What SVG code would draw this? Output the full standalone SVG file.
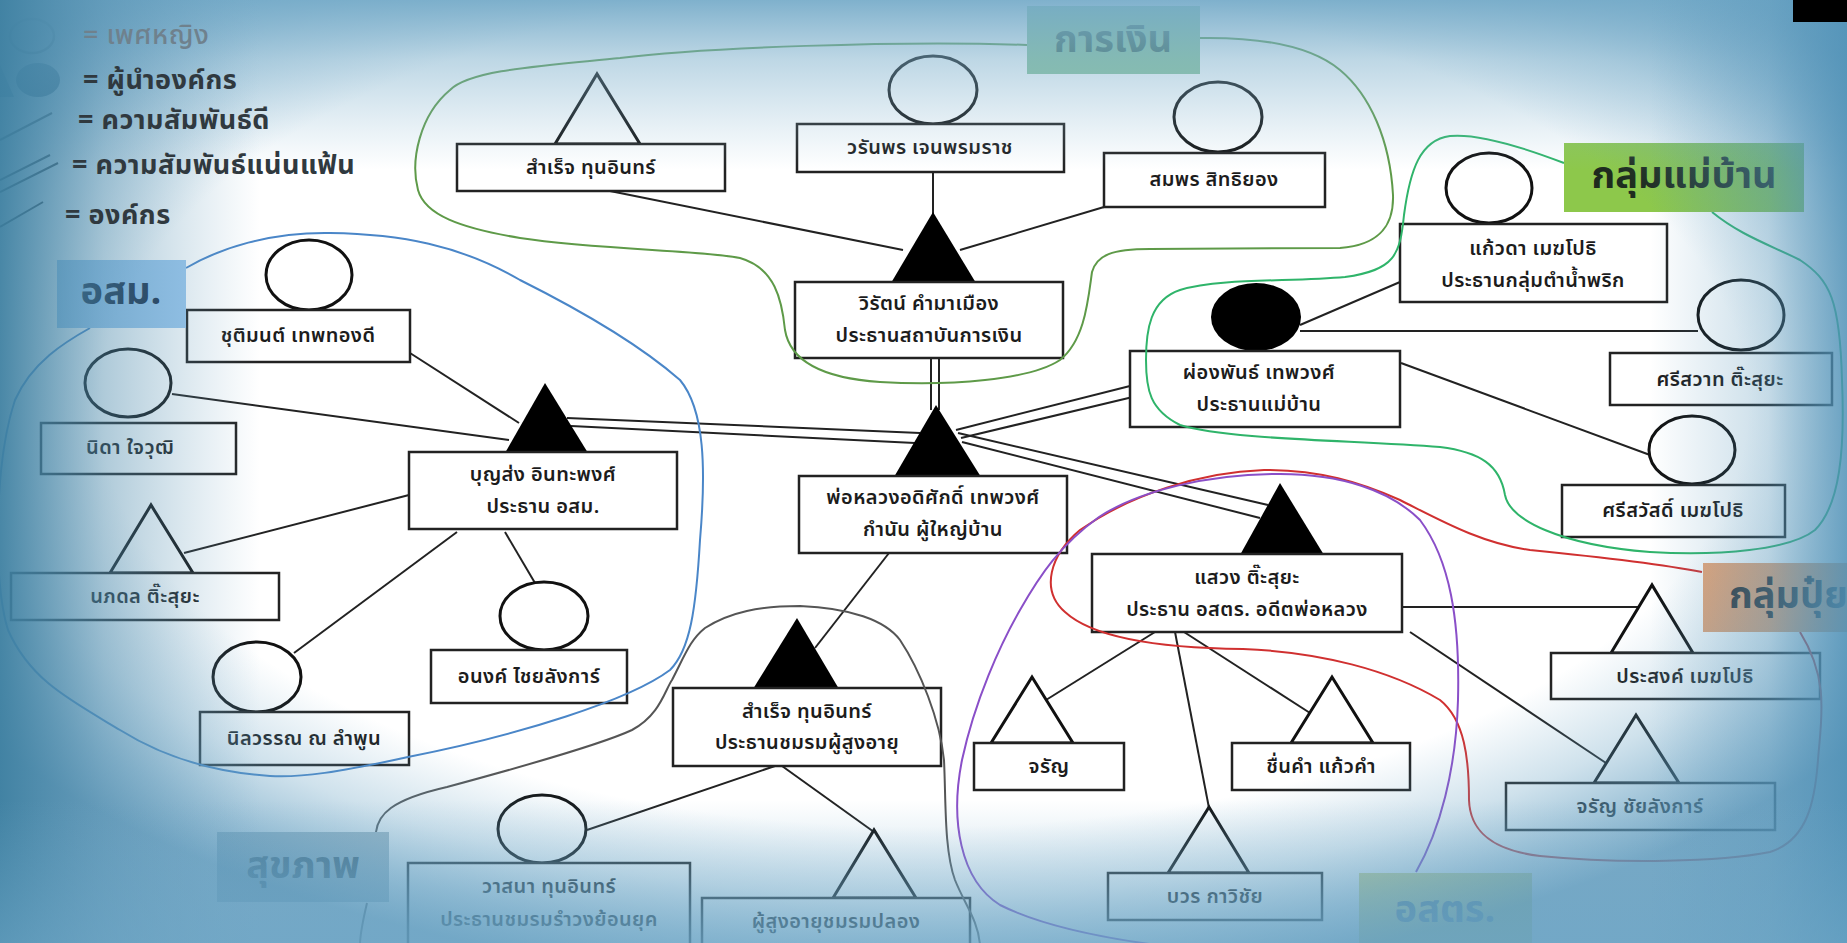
<svg xmlns="http://www.w3.org/2000/svg" width="1847" height="943" viewBox="0 0 1847 943">
<defs>
<style>
.box{fill:#fff;stroke:#222;stroke-width:2.5}
.t{font-family:"Noto Sans Thai","Noto Sans","DejaVu Sans",sans-serif;font-size:20px;letter-spacing:0.4px;fill:#1c1c1c;text-anchor:middle;dominant-baseline:central;font-weight:600}
.lg{font-family:"Noto Sans Thai","Noto Sans","DejaVu Sans",sans-serif;font-size:27px;letter-spacing:0.5px;fill:#30393f;dominant-baseline:central;font-weight:700}
.lab{font-family:"Noto Sans Thai","Noto Sans","DejaVu Sans",sans-serif;font-size:38px;font-weight:700;text-anchor:middle;dominant-baseline:central}
.tri{fill:#fff;stroke:#111;stroke-width:3;stroke-linejoin:miter}
.trif{fill:#000}
.cir{fill:#fff;stroke:#111;stroke-width:3}
.ln{stroke:#222;stroke-width:2;fill:none}
.ct{fill:none;stroke-width:2}
</style>
<radialGradient id="vig" cx="0.5" cy="0.43" r="0.62">
<stop offset="0" stop-color="#5f9dc0" stop-opacity="0"/>
<stop offset="0.72" stop-color="#5f9dc0" stop-opacity="0"/>
<stop offset="0.84" stop-color="#5f9dc0" stop-opacity="0.3"/>
<stop offset="0.93" stop-color="#5a98bc" stop-opacity="0.6"/>
<stop offset="1" stop-color="#5592b6" stop-opacity="0.8"/>
</radialGradient>
<linearGradient id="vt" x1="0" y1="0" x2="0" y2="1">
<stop offset="0" stop-color="#74aac8" stop-opacity="0.92"/>
<stop offset="0.35" stop-color="#7cafcb" stop-opacity="0.5"/>
<stop offset="1" stop-color="#8ab8d2" stop-opacity="0"/>
</linearGradient>
<linearGradient id="vl" x1="0" y1="0" x2="1" y2="0">
<stop offset="0" stop-color="#3d7fa0" stop-opacity="0.92"/>
<stop offset="0.4" stop-color="#4d8aab" stop-opacity="0.45"/>
<stop offset="1" stop-color="#6aa0bf" stop-opacity="0"/>
</linearGradient>
<linearGradient id="vr" x1="0" y1="0" x2="1" y2="0">
<stop offset="0" stop-color="#4e90b6" stop-opacity="0"/>
<stop offset="0.6" stop-color="#4e90b6" stop-opacity="0.3"/>
<stop offset="1" stop-color="#4e90b6" stop-opacity="0.8"/>
</linearGradient>
<linearGradient id="vb" x1="0" y1="0" x2="0" y2="1">
<stop offset="0" stop-color="#6fa8c8" stop-opacity="0"/>
<stop offset="1" stop-color="#6fa8c8" stop-opacity="0.55"/>
</linearGradient>
</defs>
<rect x="0" y="0" width="1847" height="943" fill="#fff"/>

<g id="legend-shapes">
<polygon points="-20,97 -2,60 14,97" fill="#3a6f8c"/>
<ellipse cx="32" cy="36" rx="22" ry="17" fill="none" stroke="#555" stroke-width="2.5"/>
<ellipse cx="38" cy="80" rx="22" ry="17" fill="#22465c"/>
<line x1="0" y1="140" x2="52" y2="113" class="ln"/>
<line x1="0" y1="180" x2="50" y2="155" class="ln"/>
<line x1="0" y1="192" x2="58" y2="163" class="ln"/>
<line x1="0" y1="227" x2="43" y2="202" class="ln"/>
</g>

<g id="connectors">
<line class="ln" x1="610" y1="191" x2="903" y2="250"/>
<line class="ln" x1="933" y1="172" x2="933" y2="214"/>
<line class="ln" x1="1104" y1="207" x2="960" y2="250"/>
<line class="ln" x1="931" y1="358" x2="931" y2="410"/>
<line class="ln" x1="939" y1="358" x2="939" y2="410"/>
<line class="ln" x1="956" y1="430" x2="1130" y2="386"/>
<line class="ln" x1="961" y1="438" x2="1137" y2="396"/>
<line class="ln" x1="958" y1="433" x2="1268" y2="505"/>
<line class="ln" x1="962" y1="442" x2="1260" y2="518"/>
<line class="ln" x1="567" y1="418" x2="920" y2="433"/>
<line class="ln" x1="571" y1="426" x2="915" y2="443"/>
<line class="ln" x1="1300" y1="325" x2="1400" y2="282"/>
<line class="ln" x1="1300" y1="331" x2="1698" y2="331"/>
<line class="ln" x1="1401" y1="363" x2="1650" y2="455"/>
<line class="ln" x1="410" y1="353" x2="519" y2="423"/>
<line class="ln" x1="172" y1="394" x2="509" y2="440"/>
<line class="ln" x1="409" y1="495" x2="184" y2="553"/>
<line class="ln" x1="457" y1="532" x2="294" y2="653"/>
<line class="ln" x1="505" y1="532" x2="535" y2="583"/>
<line class="ln" x1="889" y1="553" x2="815" y2="648"/>
<line class="ln" x1="775" y1="766" x2="587" y2="830"/>
<line class="ln" x1="782" y1="766" x2="874" y2="832"/>
<line class="ln" x1="1400" y1="607" x2="1640" y2="607"/>
<line class="ln" x1="1410" y1="632" x2="1606" y2="763"/>
<line class="ln" x1="1155" y1="632" x2="1046" y2="700"/>
<line class="ln" x1="1175" y1="632" x2="1209" y2="808"/>
<line class="ln" x1="1184" y1="632" x2="1310" y2="713"/>
</g>

<g id="n-samret1"><polygon class="tri" points="555,144 597,74 640,144"/><rect class="box" x="457" y="144" width="268" height="47"/><text class="t" x="591" y="168">สำเร็จ ทุนอินทร์</text></g>
<g id="n-waranporn"><ellipse class="cir" cx="933" cy="90" rx="44" ry="34"/><rect class="box" x="797" y="124" width="267" height="48"/><text class="t" x="930" y="148">วรันพร เจนพรมราช</text></g>
<g id="n-wirat"><polygon class="trif" points="891,283 933,212 976,283"/><rect class="box" x="795" y="282" width="268" height="76"/><text class="t" x="929" y="304">วิรัตน์ คำมาเมือง</text><text class="t" x="929" y="336">ประธานสถาบันการเงิน</text></g>
<g id="n-somporn"><ellipse class="cir" cx="1218" cy="117" rx="44" ry="35"/><rect class="box" x="1104" y="153" width="221" height="54"/><text class="t" x="1214" y="180">สมพร สิทธิยอง</text></g>
<g id="n-porluang"><polygon class="trif" points="894,477 936,405 981,477"/><rect class="box" x="799" y="476" width="268" height="77"/><text class="t" x="933" y="498">พ่อหลวงอดิศักดิ์ เทพวงศ์</text><text class="t" x="933" y="530">กำนัน ผู้ใหญ่บ้าน</text></g>
<g id="n-pongpan"><ellipse cx="1256" cy="317" rx="45" ry="34" fill="#000"/><rect class="box" x="1130" y="351" width="270" height="76"/><text class="t" x="1259" y="373">ผ่องพันธ์ เทพวงศ์</text><text class="t" x="1259" y="405">ประธานแม่บ้าน</text></g>
<g id="n-kaewda"><ellipse class="cir" cx="1489" cy="188" rx="43" ry="35"/><rect class="box" x="1400" y="224" width="267" height="78"/><text class="t" x="1533" y="249">แก้วดา เมฆโปธิ</text><text class="t" x="1533" y="281">ประธานกลุ่มตำน้ำพริก</text></g>
<g id="n-sriswat"><ellipse class="cir" cx="1741" cy="315" rx="43" ry="35"/><rect class="box" x="1610" y="353" width="222" height="52"/><text class="t" x="1720" y="380">ศรีสวาท ติ๊ะสุยะ</text></g>
<g id="n-sriswas"><ellipse class="cir" cx="1692" cy="450" rx="43" ry="34"/><rect class="box" x="1562" y="485" width="223" height="52"/><text class="t" x="1673" y="511">ศรีสวัสดิ์ เมฆโปธิ</text></g>
<g id="n-boonsong"><polygon class="trif" points="505,453 545,383 588,453"/><rect class="box" x="409" y="452" width="268" height="77"/><text class="t" x="543" y="475">บุญส่ง อินทะพงศ์</text><text class="t" x="543" y="507">ประธาน อสม.</text></g>
<g id="n-chutimon"><ellipse class="cir" cx="309" cy="275" rx="43" ry="35"/><rect class="box" x="187" y="310" width="223" height="52"/><text class="t" x="298" y="336">ชุติมนต์ เทพทองดี</text></g>
<g id="n-nida"><ellipse class="cir" cx="128" cy="383" rx="43" ry="34"/><rect class="box" x="41" y="423" width="195" height="51"/><text class="t" x="130" y="448">นิดา ใจวุฒิ</text></g>
<g id="n-napadon"><polygon class="tri" points="110,573 151,505 193,573"/><rect class="box" x="11" y="573" width="268" height="47"/><text class="t" x="145" y="597">นภดล ติ๊ะสุยะ</text></g>
<g id="n-ninlawan"><ellipse class="cir" cx="257" cy="677" rx="44" ry="35"/><rect class="box" x="200" y="712" width="209" height="53"/><text class="t" x="304" y="739">นิลวรรณ ณ ลำพูน</text></g>
<g id="n-anong"><ellipse class="cir" cx="544" cy="616" rx="44" ry="34"/><rect class="box" x="431" y="650" width="196" height="53"/><text class="t" x="529" y="677">อนงค์ ไชยลังการ์</text></g>
<g id="n-samret2"><polygon class="trif" points="753,689 797,618 839,689"/><rect class="box" x="673" y="688" width="268" height="78"/><text class="t" x="807" y="712">สำเร็จ ทุนอินทร์</text><text class="t" x="807" y="743">ประธานชมรมผู้สูงอายุ</text></g>
<g id="n-wasana"><ellipse class="cir" cx="542" cy="829" rx="44" ry="34"/><rect class="box" x="408" y="863" width="282" height="95"/><text class="t" x="549" y="887">วาสนา ทุนอินทร์</text><text class="t" x="549" y="920">ประธานชมรมรำวงย้อนยุค</text></g>
<g id="n-elder"><polygon class="tri" points="833,898 874,830 916,898"/><rect class="box" x="702" y="898" width="268" height="60"/><text class="t" x="836" y="922">ผู้สูงอายุชมรมปลอง</text></g>
<g id="n-sawaeng"><polygon class="trif" points="1240,555 1280,483 1324,555"/><rect class="box" x="1092" y="554" width="310" height="78"/><text class="t" x="1247" y="578">แสวง ติ๊ะสุยะ</text><text class="t" x="1247" y="610">ประธาน อสตร. อดีตพ่อหลวง</text></g>
<g id="n-charan"><polygon class="tri" points="991,743 1032,677 1073,743"/><rect class="box" x="974" y="743" width="150" height="47"/><text class="t" x="1049" y="767">จรัญ</text></g>
<g id="n-chuenkham"><polygon class="tri" points="1291,743 1332,677 1373,743"/><rect class="box" x="1232" y="743" width="178" height="47"/><text class="t" x="1321" y="767">ชื่นคำ แก้วคำ</text></g>
<g id="n-bowon"><polygon class="tri" points="1168,873 1209,807 1249,873"/><rect class="box" x="1108" y="873" width="214" height="47"/><text class="t" x="1215" y="897">บวร กาวิชัย</text></g>
<g id="n-prasong"><polygon class="tri" points="1611,653 1652,585 1693,653"/><rect class="box" x="1551" y="653" width="269" height="46"/><text class="t" x="1685" y="677">ประสงค์ เมฆโปธิ</text></g>
<g id="n-charan2"><polygon class="tri" points="1594,783 1636,715 1679,783"/><rect class="box" x="1506" y="783" width="269" height="47"/><text class="t" x="1640" y="807">จรัญ ชัยลังการ์</text></g>

<g id="groups">
<path class="ct" stroke="#5e9a48" d="M1027,45 C900,40 700,48 620,58 C540,66 470,70 450,90 C420,115 410,160 418,190 C425,215 460,228 520,238 C600,250 700,250 740,258 C775,268 782,300 785,330 C790,360 820,378 880,382 C950,386 1030,380 1060,360 C1085,340 1088,300 1092,272 C1097,255 1112,249 1150,249 L1340,248 C1380,245 1394,225 1393,195 C1390,140 1370,95 1340,70 C1310,45 1260,37 1200,38"/>
<path class="ct" stroke="#2fb46a" d="M1564,163 C1530,150 1480,133 1450,136 C1420,140 1410,170 1404,215 C1400,255 1395,270 1345,277 C1290,282 1220,278 1180,290 C1150,300 1146,330 1146,360 C1146,390 1150,410 1180,425 C1230,440 1350,440 1440,447 C1480,452 1500,465 1505,495 C1510,520 1560,545 1650,552 C1720,556 1790,550 1815,530 C1840,505 1845,450 1842,380 C1840,300 1830,280 1800,260 C1770,245 1740,235 1712,212"/>
<path class="ct" stroke="#4a86c8" d="M186,268 C220,248 270,232 330,233 C400,234 460,245 520,280 C580,310 640,345 680,380 C705,410 706,470 700,540 C696,610 690,650 670,670 C630,700 520,735 408,757 C340,772 300,778 270,776 C210,772 160,755 120,730 C70,700 30,680 8,630 C-8,580 -5,460 15,400 C32,362 65,342 90,328"/>
<path class="ct" stroke="#555" d="M376,832 C378,815 390,800 447,787 C510,770 600,745 632,730 C660,715 665,690 672,680 C685,655 690,640 705,628 C730,612 760,606 800,606 C850,608 885,620 900,640 C920,670 940,720 944,760 C946,800 944,850 955,880 C965,905 978,920 980,945"/>
<path class="ct" stroke="#555" d="M367,903 C363,920 360,935 360,945"/>
<path class="ct" stroke="#d03030" d="M1702,572 C1650,562 1580,555 1530,550 C1480,543 1440,520 1400,500 C1360,482 1320,470 1264,470 C1200,472 1130,495 1080,530 C1050,555 1040,590 1065,612 C1090,635 1150,648 1243,649 C1320,652 1390,670 1440,700 C1465,720 1469,760 1469,800 C1470,830 1490,850 1540,856 C1620,864 1720,862 1770,852 C1808,840 1815,800 1818,760 C1821,720 1830,680 1800,632"/>
<path class="ct" stroke="#8a4fc8" d="M1416,872 C1440,830 1456,770 1458,700 C1460,620 1450,560 1420,520 C1390,490 1340,474 1280,474 C1210,474 1140,490 1099,517 C1060,545 1040,575 1020,610 C1000,645 975,700 962,760 C950,820 960,880 1000,905 C1040,925 1100,940 1200,950"/>
</g>

<g id="labels">
<g id="l-finance"><rect x="1027" y="6" width="173" height="68" fill="#8cc49c"/><text class="lab" x="1113" y="40" fill="#3f6a5c">การเงิน</text></g>
<g id="l-housewife"><rect x="1564" y="143" width="240" height="69" fill="#8dc84b"/><text class="lab" x="1684" y="176" fill="#1e2b1e">กลุ่มแม่บ้าน</text></g>
<g id="l-osm"><rect x="57" y="260" width="129" height="68" fill="#9cc8ee"/><text class="lab" x="121" y="292" fill="#1a2e48">อสม.</text></g>
<g id="l-health"><rect x="217" y="832" width="172" height="70" fill="#aebfc8"/><text class="lab" x="303" y="866" fill="#3f5460">สุขภาพ</text></g>
<g id="l-fert"><rect x="1703" y="563" width="160" height="69" fill="#eba575"/><text class="lab" x="1729" y="596" fill="#333" style="text-anchor:start">กลุ่มปุ๋ย</text></g>
<g id="l-ostr"><rect x="1359" y="873" width="173" height="75" fill="#d5d88c"/><text class="lab" x="1445" y="910" fill="#5a7a88">อสตร.</text></g>
</g>

<g id="vignette">
<rect x="0" y="0" width="1847" height="943" fill="url(#vig)"/>
<rect x="0" y="0" width="1847" height="170" fill="url(#vt)"/>
<rect x="0" y="0" width="260" height="943" fill="url(#vl)"/>
<rect x="1650" y="0" width="197" height="943" fill="url(#vr)"/>
<rect x="0" y="800" width="1847" height="143" fill="url(#vb)"/>
</g>

<g id="legend-text">
<text x="83" y="35" class="lg" style="fill:#6f818d;font-weight:500">= เพศหญิง</text>
<text x="83" y="80" class="lg">= ผู้นำองค์กร</text>
<text x="78" y="120" class="lg">= ความสัมพันธ์ดี</text>
<text x="72" y="165" class="lg">= ความสัมพันธ์แน่นแฟ้น</text>
<text x="65" y="215" class="lg">= องค์กร</text>
</g>
<rect x="1793" y="0" width="54" height="22" fill="#000"/>
</svg>
